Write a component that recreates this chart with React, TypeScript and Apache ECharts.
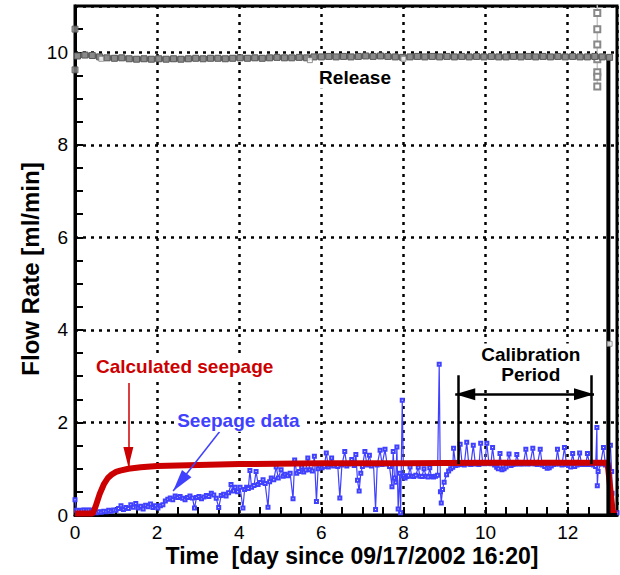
import React, { useEffect, useRef } from "react";
import * as echarts from "echarts";

const FONT = '"Liberation Sans", Arial, Helvetica, sans-serif';

// Tick labels
const xTickLabels = [0, 2, 4, 6, 8, 10, 12];
const yTickLabels = [0, 2, 4, 6, 8, 10];

// Calculated seepage (red) [day, ml/min]
const calculatedSeepage: [number, number][] = [
  [0, 0.03], [0.43, 0.03], [0.5, 0.18], [0.6, 0.45], [0.7, 0.66], [0.8, 0.8], [0.9, 0.88],
  [1.0, 0.93], [1.1, 0.96], [1.3, 1.0], [1.6, 1.03], [2.0, 1.06], [3.0, 1.08], [4.0, 1.1],
  [6.0, 1.12], [8.0, 1.12], [10.0, 1.13], [12.0, 1.13], [12.97, 1.13], [13.1, 0.04], [13.2, 0.04],
];

// Seepage data (blue) [day, ml/min]
const seepageData: [number, number][] = [
  [0.0, 0.33], [0.04, 0.1], [0.1, 0.09], [0.16, 0.1], [0.22, 0.11], [0.28, 0.1], [0.34, 0.11], [0.4, 0.1], [0.46, 0.06],
  [0.52, 0.05], [0.58, 0.07], [0.64, 0.06], [0.7, 0.08], [0.76, 0.07], [0.82, 0.1], [0.88, 0.08], [0.94, 0.11],
  [1.0, 0.1], [1.06, 0.14], [1.12, 0.2], [1.18, 0.12], [1.24, 0.16], [1.3, 0.14], [1.36, 0.22], [1.42, 0.17],
  [1.48, 0.25], [1.54, 0.15], [1.6, 0.19], [1.66, 0.13], [1.72, 0.21], [1.78, 0.18], [1.84, 0.24], [1.9, 0.16],
  [1.96, 0.2], [2.02, 0.15], [2.08, 0.2], [2.14, 0.22], [2.2, 0.3], [2.26, 0.34], [2.32, 0.37], [2.38, 0.33],
  [2.44, 0.41], [2.5, 0.38], [2.56, 0.4], [2.62, 0.36], [2.68, 0.33], [2.74, 0.38], [2.8, 0.41], [2.86, 0.37],
  [2.91, 0.15], [2.96, 0.38], [3.02, 0.4], [3.08, 0.35], [3.14, 0.39], [3.2, 0.42], [3.26, 0.4], [3.32, 0.47],
  [3.38, 0.43], [3.44, 0.36], [3.5, 0.16], [3.56, 0.42], [3.62, 0.45], [3.68, 0.41], [3.74, 0.48], [3.8, 0.66],
  [3.86, 0.52], [3.9, 0.6], [3.96, 0.5], [4.02, 0.6], [4.09, 0.15], [4.13, 0.55], [4.18, 0.6], [4.22, 0.57],
  [4.26, 0.96], [4.3, 0.6], [4.36, 0.64], [4.41, 0.94], [4.46, 0.66], [4.52, 0.7], [4.58, 0.76], [4.63, 0.68],
  [4.7, 0.17], [4.74, 0.72], [4.78, 0.8], [4.84, 0.76], [4.9, 1.04], [4.95, 0.8], [5.02, 0.98], [5.07, 0.84],
  [5.12, 0.88], [5.18, 0.85], [5.24, 0.9], [5.31, 0.35], [5.35, 1.19], [5.4, 0.9], [5.46, 0.94], [5.52, 1.04],
  [5.57, 0.93], [5.62, 0.97], [5.67, 1.23], [5.72, 0.98], [5.78, 0.95], [5.83, 1.27], [5.88, 0.29], [5.92, 1.0],
  [5.96, 1.06], [6.02, 1.02], [6.07, 1.05], [6.12, 1.34], [6.17, 1.04], [6.21, 1.08], [6.25, 1.23], [6.3, 1.06],
  [6.35, 1.1], [6.4, 1.05], [6.45, 0.37], [6.5, 1.08], [6.57, 1.37], [6.62, 1.06], [6.67, 1.1], [6.74, 1.2],
  [6.8, 1.07], [6.84, 1.31], [6.88, 0.75], [6.92, 0.52], [6.96, 0.9], [7.0, 1.05], [7.06, 1.37], [7.11, 1.08],
  [7.17, 1.29], [7.22, 1.06], [7.27, 1.1], [7.32, 0.12], [7.36, 1.08], [7.43, 1.4], [7.48, 1.09], [7.55, 1.42],
  [7.6, 1.1], [7.66, 1.05], [7.72, 0.61], [7.75, 1.37], [7.78, 0.8], [7.81, 0.71], [7.84, 1.47], [7.87, 0.13],
  [7.91, 0.9], [7.93, 0.05], [7.97, 2.48], [8.0, 0.85], [8.04, 0.8], [8.08, 0.83], [8.12, 0.85], [8.16, 1.04],
  [8.2, 0.84], [8.25, 0.83], [8.3, 0.86], [8.36, 1.03], [8.4, 0.84], [8.45, 0.83], [8.5, 1.0], [8.55, 0.84],
  [8.6, 0.82], [8.64, 1.02], [8.68, 0.83], [8.73, 0.82], [8.78, 0.84], [8.83, 0.86], [8.87, 3.26], [8.9, 0.5],
  [8.92, 0.26], [8.95, 0.55], [8.99, 0.71], [9.05, 0.87], [9.1, 0.95], [9.15, 1.0], [9.2, 1.03], [9.22, 1.44],
  [9.27, 1.07], [9.32, 1.08], [9.38, 1.53], [9.43, 1.09], [9.48, 1.08], [9.54, 1.57], [9.59, 1.1], [9.64, 1.09],
  [9.7, 1.51], [9.75, 1.1], [9.8, 1.11], [9.84, 1.09], [9.88, 1.55], [9.93, 1.12], [9.98, 1.11], [10.03, 1.55],
  [10.08, 1.12], [10.13, 1.11], [10.17, 1.46], [10.22, 1.08], [10.27, 1.03], [10.31, 1.0], [10.35, 1.33],
  [10.4, 0.98], [10.45, 1.0], [10.5, 1.04], [10.57, 1.32], [10.62, 1.07], [10.67, 1.09], [10.72, 1.1],
  [10.76, 1.31], [10.81, 1.1], [10.86, 1.11], [10.92, 1.1], [10.98, 1.42], [11.03, 1.1], [11.08, 1.11],
  [11.15, 1.44], [11.2, 1.1], [11.26, 1.09], [11.33, 1.42], [11.38, 1.08], [11.44, 1.05], [11.5, 1.01],
  [11.55, 1.02], [11.6, 1.06], [11.66, 1.09], [11.71, 1.1], [11.75, 1.42], [11.8, 1.1], [11.86, 1.08],
  [11.92, 1.46], [11.97, 1.09], [12.02, 1.07], [12.07, 1.04], [12.12, 1.33], [12.17, 1.05], [12.23, 1.08],
  [12.29, 1.34], [12.34, 1.09], [12.4, 1.1], [12.44, 1.09], [12.48, 1.33], [12.53, 1.09], [12.58, 1.1],
  [12.63, 1.08], [12.68, 1.05], [12.71, 1.89], [12.72, 0.63], [12.74, 0.94], [12.8, 1.1], [12.87, 1.46],
  [12.92, 1.08], [12.97, 1.06], [13.04, 1.51], [13.07, 0.94], [13.08, 0.47], [13.12, 0.05], [13.2, 0.05],
];

// Release rate (gray) [day, ml/min]
const releaseRate: [number, number][] = [
  [0.06, 9.92], [0.24, 9.94], [0.42, 9.93], [0.6, 9.9], [0.78, 9.88], [0.96, 9.87], [1.14, 9.88], [1.32, 9.86],
  [1.5, 9.85], [1.68, 9.86], [1.86, 9.85], [2.04, 9.86], [2.22, 9.85], [2.4, 9.86], [2.58, 9.85], [2.76, 9.86],
  [2.94, 9.87], [3.12, 9.86], [3.3, 9.87], [3.48, 9.87], [3.66, 9.86], [3.84, 9.87], [4.02, 9.88], [4.2, 9.87],
  [4.38, 9.88], [4.56, 9.87], [4.74, 9.88], [4.92, 9.89], [5.1, 9.88], [5.28, 9.88], [5.46, 9.89], [5.64, 9.88],
  [5.82, 9.9], [6.0, 9.9], [6.18, 9.91], [6.36, 9.9], [6.54, 9.91], [6.72, 9.9], [6.9, 9.91], [7.08, 9.92],
  [7.26, 9.91], [7.44, 9.92], [7.62, 9.91], [7.8, 9.9], [7.98, 9.89], [8.16, 9.9], [8.34, 9.91], [8.52, 9.9],
  [8.7, 9.91], [8.88, 9.9], [9.06, 9.91], [9.24, 9.9], [9.42, 9.91], [9.6, 9.9], [9.78, 9.91], [9.96, 9.9],
  [10.14, 9.91], [10.32, 9.9], [10.5, 9.9], [10.68, 9.91], [10.86, 9.9], [11.04, 9.91], [11.22, 9.9],
  [11.4, 9.91], [11.58, 9.9], [11.76, 9.91], [11.94, 9.9], [12.12, 9.91], [12.3, 9.9], [12.48, 9.9],
  [12.66, 9.91], [12.84, 9.9], [13.02, 9.89],
];
const releaseStart: [number, number][] = [[0, 10.5], [0, 9.62]];
const releaseSpike: [number, number][] = [
  [12.72, 11.3], [12.72, 10.85], [12.72, 10.5], [12.72, 10.17], [12.72, 9.85], [12.72, 9.57], [12.72, 9.47], [12.72, 9.26],
];
const releaseDrop: [number, number][] = [[12.99, 9.9], [12.99, 3.7], [12.99, 0], [13.2, 0]];
const releaseOpen: [number, number][] = [[0.64, 9.86], [5.72, 9.83], [8.0, 9.86], [13.02, 3.7]];

const isTick = (list: number[], v: number) => list.some((t) => Math.abs(t - v) < 1e-6);

export default function App() {
  const ref = useRef<HTMLDivElement>(null);

  useEffect(() => {
    const el = ref.current;
    if (!el) return;
    const chart = echarts.init(el, null, { renderer: "svg" });

    const splitStyle = { color: "#000", width: 2.5, type: [3, 5] as number[] };
    const arrowEnd = (coord: number[], w: number, h: number) => ({
      coord,
      symbol: "triangle",
      symbolSize: [w, h],
      symbolOffset: [0, h / 2],
    });
    const plain = (coord: number[]) => ({ coord, symbol: "none" });

    const option: any = {
      animation: false,
      backgroundColor: "#fff",
      grid: {
        left: 75, right: 3, top: 6, bottom: 60,
        show: true, borderColor: "#000", borderWidth: 3, backgroundColor: "transparent",
      },
      xAxis: [
        {
          type: "value", min: 0, max: 13.2, interval: 0.5, position: "bottom",
          axisLine: { show: true, onZero: false, lineStyle: { color: "#000", width: 3 } },
          axisTick: { show: true, inside: true, length: 8, lineStyle: { color: "#000", width: 2 } },
          axisLabel: {
            color: "#000", fontSize: 19, fontFamily: FONT, margin: 8,
            formatter: (v: number) => (isTick(xTickLabels, v) ? String(Math.round(v)) : ""),
          },
          splitLine: { show: false },
        },
        {
          type: "value", min: 0, max: 13.2, interval: 2, position: "bottom",
          axisLine: { show: false }, axisTick: { show: false }, axisLabel: { show: false },
          splitLine: { show: true, lineStyle: splitStyle },
        },
      ],
      yAxis: [
        {
          type: "value", min: 0, max: 11, interval: 0.5, position: "left",
          axisLine: { show: true, onZero: false, lineStyle: { color: "#000", width: 3 } },
          axisTick: { show: true, inside: true, length: 8, lineStyle: { color: "#000", width: 2 } },
          axisLabel: {
            color: "#000", fontSize: 19, fontFamily: FONT, margin: 7,
            formatter: (v: number) => (isTick(yTickLabels, v) ? String(Math.round(v)) : ""),
          },
          splitLine: { show: false },
        },
        {
          type: "value", min: 0, max: 11, interval: 2, position: "left",
          axisLine: { show: false }, axisTick: { show: false }, axisLabel: { show: false },
          splitLine: { show: true, lineStyle: splitStyle },
        },
      ],
      series: [
        {
          name: "Seepage data", type: "line", data: seepageData, z: 3,
          symbol: "emptyRect", symbolSize: 3, showSymbol: true,
          lineStyle: { color: "#4040ff", width: 1.2 },
          itemStyle: { color: "#4040ff", borderWidth: 1 },
          emphasis: { disabled: true },
          markLine: {
            silent: true, symbol: "none", label: { show: false },
            lineStyle: { color: "#4040ff", width: 1.5, type: "solid" },
            emphasis: { disabled: true },
            data: [[plain([3.52, 1.8]), arrowEnd([2.39, 0.52], 12, 22)]],
          },
        },
        {
          name: "Calculated seepage", type: "line", data: calculatedSeepage, z: 4,
          symbol: "none", showSymbol: false,
          lineStyle: { color: "#cc0000", width: 6 },
          itemStyle: { color: "#cc0000" },
          emphasis: { disabled: true },
          markLine: {
            silent: true, symbol: "none", label: { show: false },
            lineStyle: { color: "#cc0000", width: 1.5, type: "solid" },
            emphasis: { disabled: true },
            data: [[plain([1.3, 2.85]), arrowEnd([1.3, 1.04], 10, 20)]],
          },
        },
        {
          name: "Release spike", type: "line", data: releaseSpike, z: 5,
          symbol: "emptyRect", symbolSize: 6,
          lineStyle: { color: "#c4c4c4", width: 1.5 },
          itemStyle: { color: "#888", borderWidth: 1 },
          emphasis: { disabled: true },
        },
        {
          name: "Release drop", type: "line", data: releaseDrop, z: 5,
          symbol: "none", showSymbol: false,
          lineStyle: { color: "#000", width: 4 },
          emphasis: { disabled: true },
          markLine: {
            silent: true, symbol: "none", label: { show: false },
            lineStyle: { color: "#000", width: 2.5, type: "solid" },
            emphasis: { disabled: true },
            data: [
              [plain([9.34, 1.1]), plain([9.34, 3.02])],
              [plain([12.57, 1.1]), plain([12.57, 3.02])],
              [arrowEnd([9.26, 2.61], 12, 20), arrowEnd([12.64, 2.61], 12, 20)],
            ],
          },
        },
        {
          name: "Release", type: "line", data: releaseRate, z: 6,
          symbol: "rect", symbolSize: 6, showSymbol: true,
          lineStyle: { color: "#6a6a6a", width: 5 },
          itemStyle: { color: "#8a8a8a", borderColor: "#5a5a5a", borderWidth: 1 },
          emphasis: { disabled: true },
        },
        {
          name: "Release start", type: "scatter", data: releaseStart, z: 6,
          symbol: "rect", symbolSize: 6,
          itemStyle: { color: "#8a8a8a", borderColor: "#5a5a5a", borderWidth: 1 },
          emphasis: { disabled: true },
        },
        {
          name: "Release open", type: "scatter", data: releaseOpen, z: 7,
          symbol: "rect", symbolSize: 5,
          itemStyle: { color: "#fff", borderColor: "#777", borderWidth: 1 },
          emphasis: { disabled: true },
        },
      ],
    };
    chart.setOption(option);

    const toPx = (p: number[]) => chart.convertToPixel({ gridIndex: 0 } as any, p) as number[];
    const boxText = (at: number[], text: string, fill: string, size: number, lineHeight?: number) => {
      const [x, y] = toPx(at);
      return {
        type: "text", x, y, z: 100,
        style: {
          text, fill, align: "center", verticalAlign: "middle",
          font: `bold ${size}px ${FONT}`, lineHeight: lineHeight || size + 2,
          backgroundColor: "#fff", padding: [1, 3],
        },
      };
    };

    chart.setOption({
      graphic: [
        boxText([2.67, 3.2], "Calculated seepage", "#cc0000", 19),
        boxText([3.98, 2.05], "Seepage data", "#4040ff", 19),
        boxText([6.82, 9.46], "Release", "#000", 19),
        boxText([11.1, 3.25], "Calibration\nPeriod", "#000", 19, 20),
        {
          type: "text", x: 352, y: 556, z: 100,
          style: {
            text: "Time  [day since 09/17/2002 16:20]", fill: "#000",
            align: "center", verticalAlign: "middle", font: `bold 23px ${FONT}`,
          },
        },
        {
          type: "text", x: 30, y: 269, rotation: Math.PI / 2, z: 100,
          style: {
            text: "Flow Rate [ml/min]", fill: "#000",
            align: "center", verticalAlign: "middle", font: `bold 24px ${FONT}`,
          },
        },
      ],
    });

    return () => chart.dispose();
  }, []);

  return (
    <div
      ref={ref}
      style={{ position: "fixed", left: 0, top: 0, width: 620, height: 575, background: "#fff" }}
    />
  );
}
